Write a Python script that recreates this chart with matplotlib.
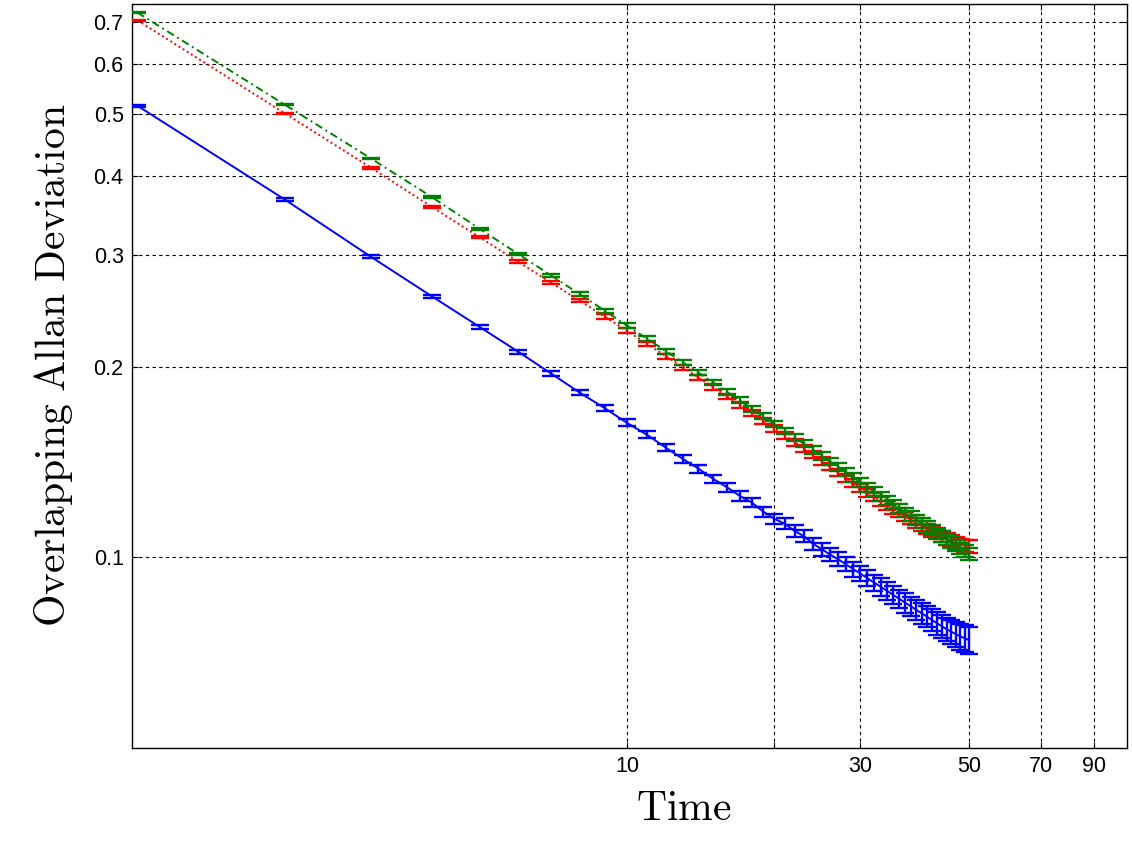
import numpy as np
import matplotlib
matplotlib.use('Agg')
import matplotlib.pyplot as plt
from matplotlib.ticker import FixedLocator, FixedFormatter, NullLocator

plt.rcParams['mathtext.fontset'] = 'cm'

# averaging time
tau = list(range(1, 51))

# overlapping Allan deviation, three series (blue / red / green)
adev_blue = [0.516, 0.367, 0.298, 0.258, 0.231, 0.211, 0.195, 0.182, 0.172, 0.163,
             0.156, 0.149, 0.143, 0.138, 0.133, 0.129, 0.125, 0.122, 0.118, 0.115,
             0.113, 0.110, 0.108, 0.105, 0.103, 0.101, 0.0993, 0.0975, 0.0958, 0.0942,
             0.0927, 0.0912, 0.0898, 0.0885, 0.0872, 0.0860, 0.0848, 0.0837, 0.0826, 0.0816,
             0.0806, 0.0796, 0.0787, 0.0778, 0.0770, 0.0763, 0.0756, 0.0750, 0.0745, 0.0740]
err_blue = [0.0015, 0.0015, 0.0015, 0.0015, 0.0016, 0.0017, 0.0018, 0.0018, 0.0019, 0.0020,
            0.0020, 0.0020, 0.0020, 0.0020, 0.0020, 0.0021, 0.0021, 0.0021, 0.0021, 0.0022,
            0.0022, 0.0023, 0.0023, 0.0023, 0.0024, 0.0024, 0.0025, 0.0025, 0.0026, 0.0026,
            0.0027, 0.0027, 0.0028, 0.0028, 0.0029, 0.0029, 0.0030, 0.0030, 0.0031, 0.0031,
            0.0031, 0.0032, 0.0032, 0.0033, 0.0033, 0.0034, 0.0035, 0.0035, 0.0036, 0.0036]

adev_red = [0.704, 0.502, 0.412, 0.357, 0.320, 0.2926, 0.2713, 0.2542, 0.2399, 0.2278,
            0.2171, 0.2078, 0.1996, 0.1922, 0.1855, 0.1794, 0.1740, 0.1689, 0.1642, 0.1598,
            0.1557, 0.1520, 0.1485, 0.1451, 0.1419, 0.1390, 0.1361, 0.1335, 0.1310, 0.1285,
            0.1265, 0.1245, 0.1226, 0.1208, 0.1192, 0.1176, 0.1161, 0.1147, 0.1134, 0.1121,
            0.1109, 0.1098, 0.1088, 0.1078, 0.1069, 0.1061, 0.1054, 0.1048, 0.1043, 0.1040]
err_red = [0.0014, 0.0013, 0.0012, 0.0012, 0.0013, 0.0015, 0.0015, 0.0017, 0.0018, 0.0019,
           0.0019, 0.0019, 0.0019, 0.0019, 0.0019, 0.0019, 0.0019, 0.0019, 0.0019, 0.0019,
           0.0019, 0.0019, 0.0019, 0.0019, 0.0019, 0.0019, 0.0019, 0.0019, 0.0019, 0.0019,
           0.0019, 0.0020, 0.0020, 0.0020, 0.0020, 0.0020, 0.0020, 0.0020, 0.0021, 0.0021,
           0.0021, 0.0021, 0.0021, 0.0021, 0.0022, 0.0022, 0.0022, 0.0022, 0.0023, 0.0023]

adev_green = [0.724, 0.518, 0.426, 0.370, 0.330, 0.301, 0.2785, 0.2603, 0.2451, 0.2321,
              0.2212, 0.2116, 0.2032, 0.1956, 0.1887, 0.1825, 0.1769, 0.1717, 0.1669, 0.1623,
              0.1583, 0.1545, 0.1510, 0.1477, 0.1446, 0.1416, 0.1389, 0.1362, 0.1337, 0.1313,
              0.1290, 0.1269, 0.1248, 0.1229, 0.1211, 0.1193, 0.1177, 0.1161, 0.1146, 0.1132,
              0.1118, 0.1105, 0.1092, 0.1079, 0.1067, 0.1055, 0.1044, 0.1033, 0.1022, 0.1012]
err_green = [0.0014, 0.0013, 0.0013, 0.0013, 0.0013, 0.0015, 0.0015, 0.0017, 0.0018, 0.0020,
             0.0020, 0.0019, 0.0019, 0.0019, 0.0019, 0.0019, 0.0019, 0.0019, 0.0019, 0.0019,
             0.0019, 0.0019, 0.0019, 0.0019, 0.0020, 0.0020, 0.0020, 0.0020, 0.0020, 0.0020,
             0.0020, 0.0020, 0.0020, 0.0020, 0.0020, 0.0020, 0.0021, 0.0021, 0.0021, 0.0021,
             0.0021, 0.0021, 0.0021, 0.0021, 0.0022, 0.0022, 0.0022, 0.0022, 0.0022, 0.0022]

x_ticks = [10, 20, 30, 50, 70, 90]
x_ticklabels = ['10', '', '30', '50', '70', '90']
y_ticks = [0.1, 0.2, 0.3, 0.4, 0.5, 0.6, 0.7]
y_ticklabels = ['0.1', '0.2', '0.3', '0.4', '0.5', '0.6', '0.7']

fig = plt.figure(figsize=(11.32, 8.51), dpi=100)
ax = fig.add_axes([132 / 1132, 103 / 851, 995 / 1132, 744 / 851])

series = [
    (adev_blue, err_blue, 'blue', '-'),
    (adev_red, err_red, 'red', (0, (1, 1.5))),
    (adev_green, err_green, 'green', (0, (4, 2, 1, 2))),
]
for vals, errs, color, ls in series:
    ax.errorbar(tau, vals, yerr=errs, color=color, linestyle=ls, linewidth=1.4,
                elinewidth=1.7, capsize=6.2, capthick=1.7, zorder=3)

ax.set_xscale('log')
ax.set_yscale('log')
ax.set_xlim(0.9745, 105.1)
ax.set_ylim(0.05, 0.747)

ax.xaxis.set_major_locator(FixedLocator(x_ticks))
ax.xaxis.set_major_formatter(FixedFormatter(x_ticklabels))
ax.xaxis.set_minor_locator(NullLocator())
ax.yaxis.set_major_locator(FixedLocator(y_ticks))
ax.yaxis.set_major_formatter(FixedFormatter(y_ticklabels))
ax.yaxis.set_minor_locator(NullLocator())

ax.tick_params(axis='both', which='major', direction='in', length=4, width=0.8,
               top=True, right=True, labelsize=15.5, pad=6)
for lbl in ax.get_xticklabels() + ax.get_yticklabels():
    lbl.set_family('Liberation Sans')

ax.grid(True, which='major', color='black', linestyle=(0, (3, 3)), linewidth=0.8)
for sp in ax.spines.values():
    sp.set_linewidth(1.0)

ax.set_xlabel(r'$\mathrm{Time}$', fontsize=30)
ax.set_ylabel(r'$\mathrm{Overlapping\ Allan\ Deviation}$', fontsize=30)
ax.xaxis.set_label_coords(0.555, -0.052)
ax.yaxis.set_label_coords(-0.057, 0.515)

fig.savefig('out.png', dpi=100)
